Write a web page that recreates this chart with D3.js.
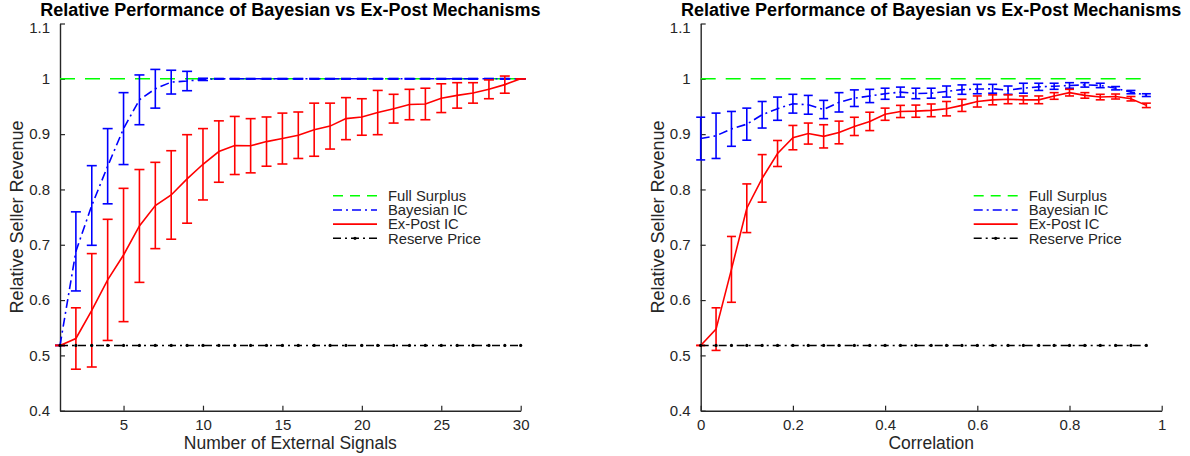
<!DOCTYPE html>
<html><head><meta charset="utf-8">
<script src="https://cdn.jsdelivr.net/npm/d3@7"></script>
<style>body{margin:0;background:#fff}</style>
</head><body>
<svg id="c" width="1190" height="456"></svg>
<script>
const titleText = "Relative Performance of Bayesian vs Ex-Post Mechanisms";
const yLabel = "Relative Seller Revenue";
const leftXLabel = "Number of External Signals";
const rightXLabel = "Correlation";
const legendLabels = ["Full Surplus", "Bayesian IC", "Ex-Post IC", "Reserve Price"];
const yTicks = [0.4, 0.5, 0.6, 0.7, 0.8, 0.9, 1.0, 1.1];
const leftXTicks = [5, 10, 15, 20, 25, 30];
const rightXTicks = [0, 0.2, 0.4, 0.6, 0.8, 1];
const fullSurplus = 1.0;
const reservePrice = 0.518;

const leftX = [1,2,3,4,5,6,7,8,9,10,11,12,13,14,15,16,17,18,19,20,21,22,23,24,25,26,27,28,29,30];
const leftBayes = [0.518,0.688,0.771,0.842,0.910,0.962,0.982,0.994,0.996,0.999,1,1,1,1,1,1,1,1,1,1,1,1,1,1,1,1,1,1,1,1];
const leftBayesErr = [0,0.0715,0.072,0.068,0.065,0.045,0.035,0.0215,0.0175,0.002,0.0006,0.0006,0.0006,0.0006,0.0006,0.0006,0.0006,0.0006,0.0006,0.0006,0.0006,0.0006,0.0006,0.0006,0.0006,0.0006,0.0006,0.0006,0.0006,0];
const leftExPost = [0.518,0.5305,0.5815,0.6365,0.6815,0.734,0.771,0.790,0.819,0.8455,0.8685,0.8795,0.879,0.8865,0.892,0.898,0.908,0.9145,0.928,0.931,0.939,0.946,0.9535,0.9545,0.965,0.970,0.9745,0.981,0.9895,1.0];
const leftExPostErr = [0,0.0555,0.1025,0.1095,0.1205,0.102,0.078,0.080,0.080,0.0645,0.0555,0.0525,0.049,0.0445,0.046,0.042,0.048,0.0415,0.038,0.033,0.040,0.026,0.0275,0.0285,0.026,0.023,0.0185,0.017,0.0155,0];

const rightX = [0,0.0333,0.0667,0.1,0.1333,0.1667,0.2,0.2333,0.2667,0.3,0.3333,0.3667,0.4,0.4333,0.4667,0.5,0.5333,0.5667,0.6,0.6333,0.6667,0.7,0.7333,0.7667,0.8,0.8333,0.8667,0.9,0.9333,0.9667];
const rightBayes = [0.892,0.897,0.9095,0.918,0.935,0.946,0.955,0.953,0.9445,0.9575,0.965,0.969,0.973,0.976,0.9735,0.974,0.977,0.9805,0.9815,0.982,0.9795,0.983,0.9855,0.9865,0.988,0.989,0.988,0.983,0.976,0.9705];
const rightBayesErr = [0.0386,0.041,0.0315,0.029,0.024,0.021,0.017,0.017,0.0165,0.0175,0.015,0.012,0.010,0.009,0.0095,0.009,0.010,0.0085,0.0085,0.008,0.0075,0.009,0.0065,0.0055,0.005,0.004,0.004,0.003,0.003,0.0025];
const rightExPost = [0.518,0.5475,0.6555,0.766,0.820,0.865,0.8937,0.901,0.896,0.903,0.914,0.923,0.936,0.941,0.9415,0.943,0.946,0.952,0.959,0.962,0.963,0.962,0.962,0.969,0.975,0.970,0.967,0.968,0.964,0.952];
const rightExPostErr = [0,0.0385,0.0595,0.044,0.043,0.0235,0.022,0.019,0.021,0.0205,0.0165,0.0166,0.011,0.011,0.011,0.0115,0.013,0.011,0.010,0.009,0.008,0.007,0.007,0.006,0.006,0.005,0.005,0.0045,0.004,0.004];

const FONT = "'Liberation Sans', Arial, Helvetica, sans-serif";
const GREEN = "#00ff00", BLUE = "#0000ff", RED = "#ff0000", BLACK = "#000000", AX = "#262626";
const svg = d3.select("#c");
svg.append("rect").attr("width",1190).attr("height",456).attr("fill","#fff");

function panel(opt) {
  const g = svg.append("g");
  const x = d3.scaleLinear().domain(opt.xDomain).range(opt.xRange);
  const y = d3.scaleLinear().domain([0.4, 1.1]).range([410.7, 23.5]);
  const xs = opt.xs;

  // axes
  const ya = g.append("g").attr("transform", `translate(${opt.xRange[0]},0)`)
    .call(d3.axisLeft(y).tickValues(yTicks).tickSizeInner(-5).tickSizeOuter(0).tickPadding(10)
      .tickFormat(d => d3.format("~g")(+d.toFixed(1))));
  const xa = g.append("g").attr("transform", `translate(0,410.7)`)
    .call(d3.axisBottom(x).tickValues(opt.xTicks).tickSizeInner(-5).tickSizeOuter(0).tickPadding(9)
      .tickFormat(d => d3.format("~g")(d)));
  [ya, xa].forEach(a => {
    a.select(".domain").attr("stroke", AX).attr("stroke-width", 1.4);
    a.selectAll(".tick line").attr("stroke", AX).attr("stroke-width", 1.2);
    a.selectAll("text").attr("fill", AX).style("font-family", FONT).style("font-size", "15px");
  });
  // top label sits slightly lower, as in the reference
  ya.selectAll(".tick").filter(d => d > 1.05).select("text").attr("dy", "0.6em");

  const line = (vals) => d3.line().x((d, i) => x(xs[i])).y(d => y(d))(vals);

  // full surplus
  g.append("path").attr("d", line(xs.map(() => fullSurplus)))
    .attr("fill", "none").attr("stroke", GREEN).attr("stroke-width", 1.6).attr("stroke-dasharray", "15,10");

  function errSeries(vals, errs, color, dash) {
    const eb = g.append("g");
    vals.forEach((v, i) => {
      const cx = x(xs[i]), y1 = y(v + errs[i]), y2 = y(v - errs[i]);
      const hw = opt.cap / 2;
      eb.append("line").attr("x1", cx).attr("x2", cx).attr("y1", y1).attr("y2", y2);
      eb.append("line").attr("x1", cx - hw).attr("x2", cx + hw).attr("y1", y1).attr("y2", y1);
      eb.append("line").attr("x1", cx - hw).attr("x2", cx + hw).attr("y1", y2).attr("y2", y2);
    });
    eb.selectAll("line").attr("stroke", color).attr("stroke-width", 1.6);
    g.append("path").attr("d", line(vals)).attr("fill", "none").attr("stroke", color)
      .attr("stroke-width", 1.6).attr("stroke-dasharray", dash);
  }
  errSeries(opt.bayes, opt.bayesErr, BLUE, "9,4,2,4");
  errSeries(opt.expost, opt.expostErr, RED, null);

  // reserve price
  g.append("path").attr("d", line(xs.map(() => reservePrice)))
    .attr("fill", "none").attr("stroke", BLACK).attr("stroke-width", 1.5).attr("stroke-dasharray", "8,4,2,4");
  g.selectAll(".rp").data(xs).enter().append("circle")
    .attr("cx", d => x(d)).attr("cy", y(reservePrice)).attr("r", 1.6).attr("fill", BLACK);

  // title
  g.append("text").attr("x", (opt.xRange[0] + opt.xRange[1]) / 2).attr("y", 15.5)
    .attr("text-anchor", "middle").style("font-family", FONT).style("font-size", "18px")
    .style("font-weight", "bold").attr("fill", "#000").text(titleText);
  // axis labels
  g.append("text").attr("x", (opt.xRange[0] + opt.xRange[1]) / 2).attr("y", 448.5)
    .attr("text-anchor", "middle").style("font-family", FONT).style("font-size", "17.5px")
    .attr("fill", AX).text(opt.xLabel);
  g.append("text").attr("transform", `translate(${opt.xRange[0] - 37},217) rotate(-90)`)
    .attr("text-anchor", "middle").style("font-family", FONT).style("font-size", "18px")
    .attr("fill", AX).text(yLabel);

  // legend
  const lx0 = opt.xRange[0] + 273, lx1 = lx0 + 44, tx = lx0 + 55;
  const rows = [195.7, 210, 224.1, 238.3];
  const styles = [
    {c: GREEN, d: "10,7"}, {c: BLUE, d: "9,4,2,4"}, {c: RED, d: null}, {c: BLACK, d: "8,4,2,4"}
  ];
  legendLabels.forEach((lab, i) => {
    g.append("line").attr("x1", lx0).attr("x2", lx1).attr("y1", rows[i]).attr("y2", rows[i])
      .attr("stroke", styles[i].c).attr("stroke-width", 1.6).attr("stroke-dasharray", styles[i].d);
    g.append("text").attr("x", tx).attr("y", rows[i] + 5.2).style("font-family", FONT)
      .style("font-size", "14.8px").attr("fill", AX).text(lab);
  });
  g.append("circle").attr("cx", (lx0 + lx1) / 2).attr("cy", rows[3]).attr("r", 1.6).attr("fill", BLACK);
}

panel({xDomain: [1, 30], xRange: [60, 520.7], xTicks: leftXTicks, xs: leftX, xLabel: leftXLabel,
  bayes: leftBayes, bayesErr: leftBayesErr, expost: leftExPost, expostErr: leftExPostErr, cap: 10});
panel({xDomain: [0, 1], xRange: [700.7, 1161.7], xTicks: rightXTicks, xs: rightX, xLabel: rightXLabel,
  bayes: rightBayes, bayesErr: rightBayesErr, expost: rightExPost, expostErr: rightExPostErr, cap: 9});
</script>
</body></html>
